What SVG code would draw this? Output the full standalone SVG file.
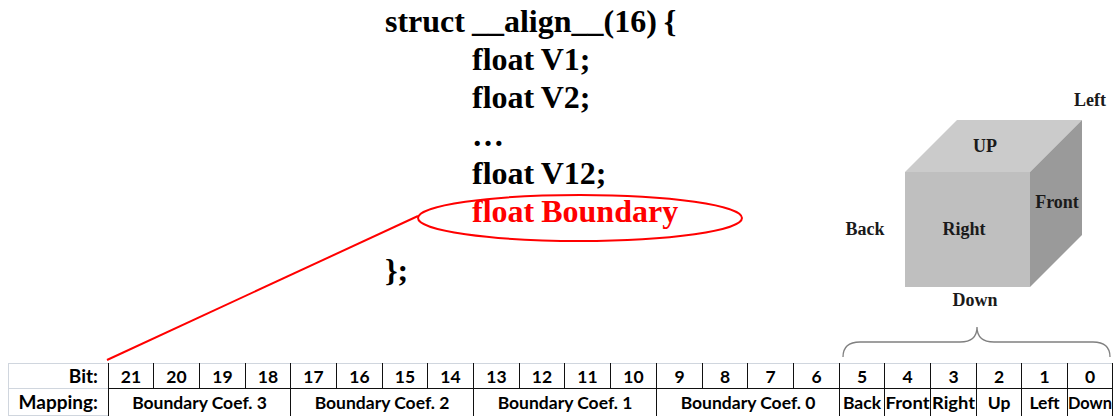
<svg xmlns="http://www.w3.org/2000/svg" width="1117" height="416" viewBox="0 0 1117 416">
  <style>
    .code { font-family: "Liberation Serif", "Times New Roman", serif; font-weight: bold; font-size: 32px; word-spacing: -1px; fill: #000; }
    .code.hl { fill: #ff0000; }
    .face-lbl { font-family: "Liberation Serif", "Times New Roman", serif; font-weight: bold; font-size: 18px; fill: #1a1a1a; text-anchor: middle; }
    .cell { font-family: Lato, "Liberation Sans", sans-serif; font-weight: bold; font-size: 17.5px; fill: #000; text-anchor: middle; }
    .hdr { font-family: Lato, "Liberation Sans", sans-serif; font-weight: bold; font-size: 19px; fill: #000; text-anchor: end; }
    .grid-light { stroke: #d0d6de; stroke-width: 1; fill: none; }
    .grid-dark { stroke: #111; stroke-width: 1; fill: none; }
  </style>

  <!-- struct declaration -->
  <g id="struct-code">
    <text class="code" x="385" y="32">struct __align__(16) {</text>
    <text class="code" x="472" y="70">float V1;</text>
    <text class="code" x="472" y="108">float V2;</text>
    <text class="code" x="472" y="146">…</text>
    <text class="code" x="472" y="184">float V12;</text>
    <text class="code hl" x="472" y="222">float Boundary</text>
    <text class="code" x="385" y="281">};</text>
  </g>

  <!-- highlight around the boundary field -->
  <g id="boundary-highlight">
    <ellipse cx="580" cy="218" rx="162" ry="23" fill="none" stroke="#ff0000" stroke-width="2"/>
  </g>

  <!-- cube showing the six faces -->
  <g id="cube">
    <polygon points="905,172 957,120 1082,120 1030,172" fill="#cbcbcb"/>
    <polygon points="1030,172 1082,120 1082,235 1030,287" fill="#9a9a9a"/>
    <rect x="905" y="172" width="125" height="115" fill="#bfbfbf"/>
    <text class="face-lbl" x="1090" y="106">Left</text>
    <text class="face-lbl" x="985" y="152">UP</text>
    <text class="face-lbl" x="1057" y="208">Front</text>
    <text class="face-lbl" x="865" y="235">Back</text>
    <text class="face-lbl" x="964" y="235">Right</text>
    <text class="face-lbl" x="975" y="306">Down</text>
  </g>

  <!-- bit mapping table -->
  <g id="bit-table">
    <!-- header column gridlines -->
    <path class="grid-light" d="M8.5,363 V416 M8,363.5 H1113 M8,388.5 H108 M8,415.5 H108"/>
    <!-- data cell borders -->
    <path class="grid-dark" d="M108,388.5 H1113
      M108.5,363 V416 M153.5,363 V388 M199.5,363 V388 M245.5,363 V388 M290.5,363 V416
      M336.5,363 V388 M382.5,363 V388 M427.5,363 V388 M473.5,363 V416
      M519.5,363 V388 M564.5,363 V388 M610.5,363 V388 M656.5,363 V416
      M702.5,363 V388 M747.5,363 V388 M793.5,363 V388 M839.5,363 V416
      M884.5,363 V416 M930.5,363 V416 M976.5,363 V416 M1021.5,363 V416
      M1067.5,363 V416 M1112.5,363 V416"/>
    <text class="hdr" x="98" y="383">Bit:</text>
    <text class="hdr" x="98" y="409">Mapping:</text>
    <g id="bit-numbers">
      <text class="cell" x="131" y="383">21</text>
      <text class="cell" x="176.5" y="383">20</text>
      <text class="cell" x="222.5" y="383">19</text>
      <text class="cell" x="268" y="383">18</text>
      <text class="cell" x="313.5" y="383">17</text>
      <text class="cell" x="359.5" y="383">16</text>
      <text class="cell" x="405" y="383">15</text>
      <text class="cell" x="450.5" y="383">14</text>
      <text class="cell" x="496.5" y="383">13</text>
      <text class="cell" x="542" y="383">12</text>
      <text class="cell" x="587.5" y="383">11</text>
      <text class="cell" x="633.5" y="383">10</text>
      <text class="cell" x="679.5" y="383">9</text>
      <text class="cell" x="725" y="383">8</text>
      <text class="cell" x="770.5" y="383">7</text>
      <text class="cell" x="816.5" y="383">6</text>
      <text class="cell" x="862" y="383">5</text>
      <text class="cell" x="907.5" y="383">4</text>
      <text class="cell" x="953.5" y="383">3</text>
      <text class="cell" x="999" y="383">2</text>
      <text class="cell" x="1044.5" y="383">1</text>
      <text class="cell" x="1090" y="383">0</text>
    </g>
    <g id="bit-mapping">
      <text class="cell" x="199.5" y="409">Boundary Coef. 3</text>
      <text class="cell" x="382" y="409">Boundary Coef. 2</text>
      <text class="cell" x="565" y="409">Boundary Coef. 1</text>
      <text class="cell" x="748" y="409">Boundary Coef. 0</text>
      <text class="cell" x="862" y="409">Back</text>
      <text class="cell" x="907.5" y="409" textLength="44" lengthAdjust="spacingAndGlyphs">Front</text>
      <text class="cell" x="953.5" y="409" textLength="43" lengthAdjust="spacingAndGlyphs">Right</text>
      <text class="cell" x="999" y="409">Up</text>
      <text class="cell" x="1044.5" y="409">Left</text>
      <text class="cell" x="1090" y="409" textLength="44" lengthAdjust="spacingAndGlyphs">Down</text>
    </g>
  </g>

  <!-- connectors -->
  <g id="connectors" fill="none">
    <line x1="418" y1="216" x2="107" y2="360" stroke="#ff0000" stroke-width="2"/>
    <path d="M843,357 C843,348 848,342 860,342 L960,342 C971,342 977,338 977,327 C977,338 983,342 994,342 L1093,342 C1105,342 1110,348 1110,357" stroke="#808080" stroke-width="1.3"/>
  </g>
</svg>
